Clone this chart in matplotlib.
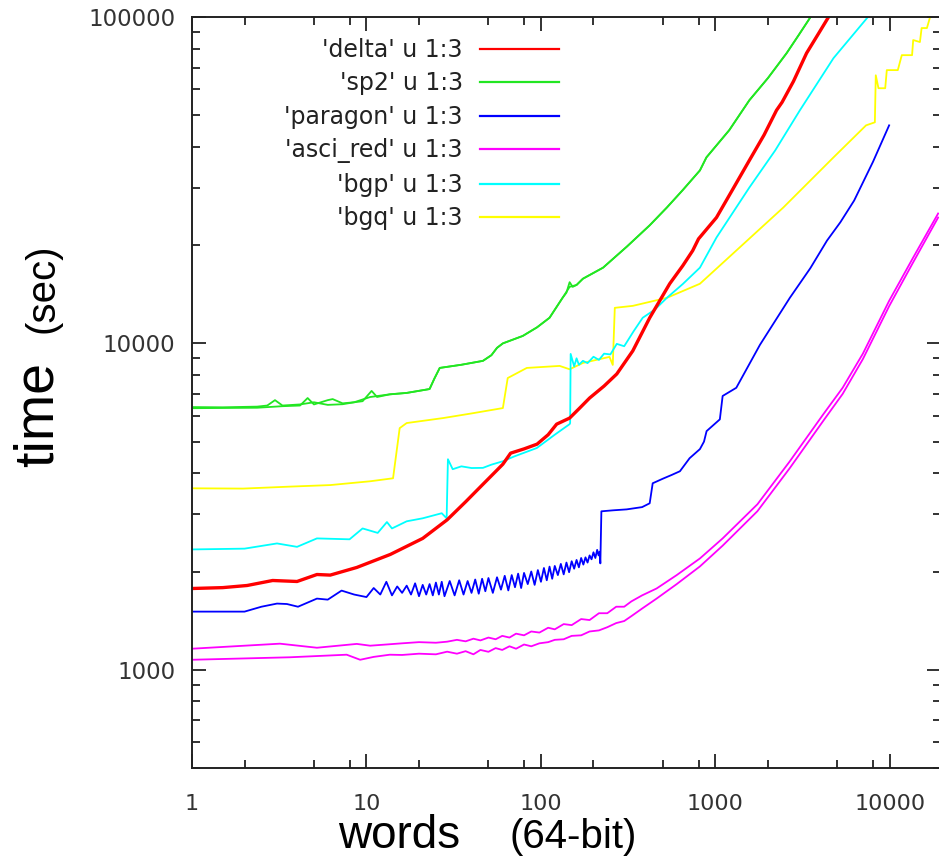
import matplotlib
matplotlib.use("Agg")
import matplotlib.pyplot as plt
from matplotlib.lines import Line2D
from matplotlib.ticker import LogLocator, FuncFormatter, NullFormatter

# words (64-bit) vs time (sec)
delta_x = [1, 1.5, 2.07, 2.9, 4.0, 5.2, 6.2, 8.8, 13.7, 21, 29, 37, 46.5, 55, 60.5, 64, 67, 80, 95,
           110, 123, 146, 165, 190, 230, 272, 336, 420, 547, 650, 741, 800, 1014, 1250, 1565, 1900,
           2240, 2410, 2800, 3330, 3900, 4400]
delta_y = [1774, 1785, 1812, 1877, 1864, 1958, 1950, 2058, 2256, 2526, 2880, 3270, 3700, 4050, 4264,
           4450, 4609, 4750, 4912, 5250, 5656, 5904, 6300, 6800, 7400, 8058, 9484, 11976, 15233, 17300,
           19240, 20900, 24300, 29500, 36370, 43500, 51800, 54800, 63500, 77500, 89000, 99000]

sp2_x = [1, 1.5, 2.36, 2.7, 2.99, 3.3, 4.16, 5.0, 6.0, 7.3, 8.5, 10.5, 13.6, 17, 23, 24.5, 26.3, 35,
         46.5, 52, 56, 60.5, 78.7, 95, 112, 133, 140, 146, 152, 160, 174, 227, 311, 420, 527, 650,
         815, 888, 1200, 1565, 2000, 2560, 3000, 3480]
sp2_y = [6380, 6370, 6400, 6450, 6700, 6450, 6500, 6600, 6480, 6510, 6600, 6850, 6980, 7050, 7246,
         7800, 8410, 8600, 8840, 9200, 9690, 10000, 10540, 11200, 11980, 13790, 14300, 15400, 14900,
         15100, 15780, 17060, 19800, 23000, 26080, 29500, 33880, 37140, 45000, 55580, 65000, 77500,
         88000, 99300]
sp2_b_x = [1, 2.36, 3.3, 4.16, 4.6, 5.0, 6.0, 6.4, 7.3, 8.5, 9.5, 10.7, 11.5, 13.6, 17, 23, 24.5,
           26.3, 35, 46.5, 52, 56, 60.5, 78.7, 95, 112, 133, 146, 160, 174, 227, 311, 420, 527, 650,
           815, 888, 1200, 1565, 2000, 2560, 3000, 3480]
sp2_b_y = [6330, 6350, 6420, 6450, 6800, 6500, 6700, 6750, 6550, 6600, 6650, 7150, 6850, 6980, 7050,
           7246, 7800, 8410, 8600, 8840, 9200, 9690, 10000, 10540, 11200, 11980, 13790, 14900, 15100,
           15780, 17060, 19800, 23000, 26080, 29500, 33880, 37140, 45000, 55580, 65000, 77500, 88000,
           99300]

paragon_x = [1, 2.0, 2.5, 3.07, 3.5, 4.05, 5.2, 6.0, 7.2, 8.5, 10, 11, 12, 13, 14, 15, 16, 17, 18, 19,
             20, 21, 22, 23, 24, 25, 26, 27, 28, 30, 32, 34, 36, 38, 40, 42, 44, 46, 48, 50, 53, 56, 59,
             62, 65, 68, 71, 74, 77, 80, 84, 88, 92, 96, 100, 104, 108, 112, 116, 120, 125, 130, 135,
             140, 145, 150, 155, 160, 165, 170, 175, 180, 185, 190, 195, 200, 205, 210, 214, 217, 219,
             222, 260, 310, 380, 420, 437, 500, 560, 626, 711, 815, 860, 890, 1060, 1100, 1317, 1800,
             2670, 3500, 4360, 5200, 6240, 8000, 9900]
paragon_y = [1507, 1507, 1560, 1595, 1590, 1560, 1652, 1640, 1748, 1700, 1670, 1780, 1700, 1860, 1690,
             1800, 1720, 1810, 1700, 1840, 1680, 1820, 1700, 1830, 1690, 1850, 1700, 1860, 1680, 1870,
             1690, 1880, 1700, 1870, 1720, 1890, 1710, 1900, 1740, 1910, 1720, 1920, 1760, 1940, 1750,
             1950, 1790, 1970, 1780, 1980, 1830, 2000, 1820, 2020, 1860, 2050, 1880, 2070, 1900, 2080,
             1950, 2110, 1960, 2130, 1990, 2150, 2040, 2170, 2060, 2200, 2100, 2210, 2130, 2240, 2180,
             2290, 2200, 2330, 2240, 2300, 2118, 3058, 3080, 3100, 3150, 3236, 3727, 3850, 3950, 4057,
             4447, 4743, 5000, 5385, 5850, 6900, 7310, 9900, 13790, 17000, 20650, 23500, 27400, 36000,
             46560]

asci_x = [1, 3.19, 5.2, 8.8, 10.5, 13, 16, 20, 25, 29, 33, 37, 41, 45, 50, 55, 60, 66, 72, 80, 88, 98,
          110, 120, 135, 150, 170, 190, 215, 240, 270, 300, 330, 380, 460, 600, 815, 1100, 1740, 2670,
          4160, 5360, 7000, 9900, 13500, 18900]
asci_y = [1160, 1202, 1168, 1200, 1185, 1195, 1205, 1215, 1210, 1219, 1235, 1222, 1245, 1230, 1255,
          1240, 1270, 1255, 1290, 1275, 1310, 1300, 1345, 1330, 1380, 1370, 1430, 1420, 1490, 1490,
          1560, 1560, 1620, 1690, 1774, 1950, 2193, 2526, 3213, 4353, 6073, 7310, 9300, 13500, 18200,
          25000]
asci_b_x = [1, 3.64, 7.7, 9.2, 11, 13.6, 16, 20, 25, 29, 33, 37, 41, 45, 50, 55, 60, 66, 72, 80, 88,
            98, 110, 120, 135, 150, 170, 190, 215, 240, 270, 300, 330, 380, 460, 600, 815, 1100, 1740,
            2670, 4160, 5360, 7000, 9900, 13500, 18900]
asci_b_y = [1073, 1092, 1112, 1073, 1095, 1112, 1110, 1120, 1115, 1136, 1120, 1140, 1115, 1150, 1135,
            1165, 1150, 1180, 1160, 1195, 1180, 1205, 1215, 1235, 1240, 1270, 1275, 1310, 1320, 1350,
            1390, 1410, 1460, 1540, 1652, 1830, 2073, 2400, 3060, 4150, 5800, 7000, 8950, 13000, 17600,
            24300]

bgp_x = [1, 2.0, 3.07, 4.0, 5.2, 8.0, 9.5, 11.6, 13.1, 14, 17, 21, 27, 28.8, 29.3, 31.2, 35, 40, 46.5,
         52, 60.5, 70, 94.7, 120, 146, 147, 148, 155, 160, 165, 174, 185, 200, 215, 230, 250, 272, 300,
         340, 383, 450, 527, 650, 815, 1014, 1565, 2200, 3050, 4750, 7400]
bgp_y = [2337, 2350, 2438, 2380, 2526, 2510, 2710, 2626, 2835, 2710, 2850, 2911, 3017, 2911, 4416,
         4116, 4200, 4150, 4155, 4250, 4353, 4500, 4780, 5250, 5656, 5700, 9284, 8500, 9000, 8600, 8840,
         8700, 9100, 8900, 9300, 9250, 9965, 9800, 10900, 11980, 12700, 13790, 15200, 17060, 21100,
         30030, 39000, 51800, 74800, 99300]

bgq_x = [1, 1.96, 3.64, 6.2, 10.5, 14.2, 15.5, 17, 27.5, 40, 60.5, 64.5, 83, 128, 146, 174, 247, 258,
         265, 336, 527, 815, 1260, 2450, 4750, 7300, 8200, 8300, 8600, 9400, 9600, 11100, 11700, 13400,
         13600, 14860, 15200, 16300, 17000]
bgq_y = [3597, 3590, 3640, 3680, 3780, 3861, 5500, 5700, 5904, 6100, 6336, 7830, 8410, 8530, 8330,
         8710, 9090, 8590, 12850, 13030, 13790, 15230, 18840, 26080, 37140, 46560, 47570, 66300, 60500,
         60500, 68750, 68750, 76400, 76400, 85000, 83800, 92500, 92500, 100000]

labels = ["'delta' u 1:3", "'sp2' u 1:3", "'paragon' u 1:3", "'asci_red' u 1:3",
          "'bgp' u 1:3", "'bgq' u 1:3"]
colors = ["#ff0000", "#22e622", "#0000ff", "#ff00ff", "#00ffff", "#ffff00"]

W, H = 939, 857
fig = plt.figure(figsize=(W / 100, H / 100), dpi=100)
ax = fig.add_axes([192 / W, 1 - 768 / H, (940.5 - 192) / W, (768 - 17) / H])

lw = 1.3
ax.plot(sp2_x, sp2_y, color=colors[1], lw=lw)
ax.plot(sp2_b_x, sp2_b_y, color=colors[1], lw=lw)
ax.plot(asci_x, asci_y, color=colors[3], lw=lw)
ax.plot(asci_b_x, asci_b_y, color=colors[3], lw=lw)
ax.plot(paragon_x, paragon_y, color=colors[2], lw=lw)
ax.plot(bgq_x, bgq_y, color=colors[5], lw=lw)
ax.plot(bgp_x, bgp_y, color=colors[4], lw=lw)
ax.plot(delta_x, delta_y, color=colors[0], lw=2.4)

ax.set_xscale("log")
ax.set_yscale("log")
ax.set_xlim(1, 19500)
ax.set_ylim(500, 100000)

ax.xaxis.set_major_locator(LogLocator(base=10, numticks=10))
ax.xaxis.set_minor_locator(LogLocator(base=10, subs=(2, 5, 8), numticks=10))
ax.yaxis.set_major_locator(LogLocator(base=10, numticks=10))
ax.yaxis.set_minor_locator(LogLocator(base=10, subs=range(2, 10), numticks=10))
fmt = FuncFormatter(lambda v, p: f"{int(round(v))}")
ax.xaxis.set_major_formatter(fmt)
ax.yaxis.set_major_formatter(fmt)
ax.xaxis.set_minor_formatter(NullFormatter())
ax.yaxis.set_minor_formatter(NullFormatter())

ax.tick_params(which="both", direction="in", top=True, right=True, color="#222222", width=1.3)
ax.tick_params(which="major", length=10)
ax.tick_params(which="minor", length=5.8)
ax.tick_params(axis="x", which="major", pad=19, labelsize=16, labelcolor="#333333")
ax.tick_params(axis="y", which="major", pad=12, labelsize=16.5, labelcolor="#333333")
for s in ax.spines.values():
    s.set_color("#222222")
    s.set_linewidth(1.4)

handles = [Line2D([], [], color=c, lw=1.6) for c in colors]
ax.legend(handles, labels, loc="upper right", bbox_to_anchor=(559 / W, 1 - 38 / H),
          bbox_transform=fig.transFigure, frameon=False, markerfirst=False,
          fontsize=17, handlelength=3.35, handletextpad=0.72, labelspacing=0.40,
          borderpad=0, borderaxespad=0, labelcolor="#222222")

lab = dict(family="Liberation Sans", color="black")
fig.text(338 / W, 1 - 848 / H, "words", fontsize=33, va="baseline", ha="left", **lab)
fig.text(509 / W, 1 - 848 / H, "(64-bit)", fontsize=29, va="baseline", ha="left", **lab)
fig.text(53 / W, 1 - 467 / H, "time", fontsize=40, rotation=90, rotation_mode="anchor",
         va="baseline", ha="left", **lab)
fig.text(54 / W, 1 - 333 / H, "(sec)", fontsize=29, rotation=90, rotation_mode="anchor",
         va="baseline", ha="left", **lab)

fig.savefig("out.png", dpi=100)
